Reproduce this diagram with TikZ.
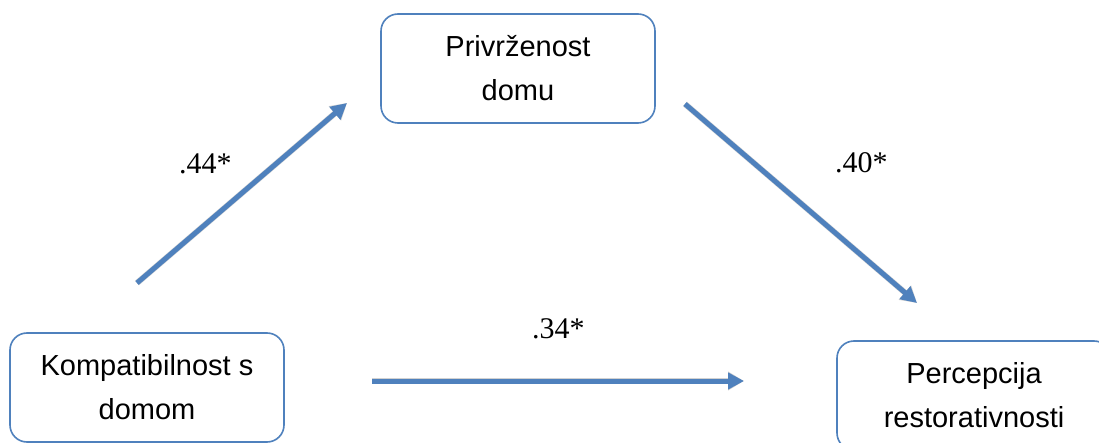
\documentclass[tikz,border=0pt]{standalone}
\usepackage{fontspec}
\setmainfont{Liberation Serif}
\newfontfamily\boxfont{Liberation Sans}
\usetikzlibrary{arrows.meta}
\definecolor{boxblue}{HTML}{4F81BD}
\definecolor{arrblue}{HTML}{4F81BD}
\tikzset{
  varbox/.style={draw=boxblue, line width=1.6pt, fill=white, rounded corners=17pt,
    minimum width=274pt, minimum height=109pt, inner sep=0pt},
  vartext/.style={align=center, font=\boxfont\fontsize{29}{44}\selectfont, inner sep=0pt},
  pathArrow/.style={draw=arrblue, line width=5pt, -{Triangle[length=16pt,width=16pt]}},
  shadowArrow/.style={draw=black, opacity=0.18, line width=6pt, -{Triangle[length=16pt,width=18pt]}},
  coef/.style={anchor=base west, inner sep=0pt, font=\fontsize{30}{36}\selectfont}
}
\begin{document}
\begin{tikzpicture}[x=1pt,y=-1pt]
\useasboundingbox (0,0) rectangle (1099,443);
\clip (0,0) rectangle (1099,443);
\fill[white] (0,0) rectangle (1099,443);
% boxes
\node[varbox] (komp) at (147,387.5) {};
\node[vartext] (kompT) at (komp.center) {Kompatibilnost s\\domom};
\node[varbox] (priv) at (518,68.5) {};
\node[vartext] (privT) at (priv.center) {Privrženost\\domu};
\node[varbox] (perc) at (974,395.5) {};
\node[vartext] (percT) at (perc.center) {Percepcija\\restorativnosti};
% arrow end points
\coordinate (a1s) at (137,283);
\coordinate (a1e) at (347,103);
\coordinate (a2s) at (685,104);
\coordinate (a2e) at (917,303);
\coordinate (a3s) at (372,381);
\coordinate (a3e) at (744,381);
% shadows
\begin{scope}[shift={(1.5,3)}]
\draw[shadowArrow] (a1s) -- (a1e);
\draw[shadowArrow] (a2s) -- (a2e);
\draw[shadowArrow] (a3s) -- (a3e);
\end{scope}
% arrows
\draw[pathArrow] (a1s) -- (a1e);
\draw[pathArrow] (a2s) -- (a2e);
\draw[pathArrow] (a3s) -- (a3e);
% coefficients
\node[coef] (c1) at (179,174) {.44*};
\node[coef] (c2) at (835,173) {.40*};
\node[coef] (c3) at (532,338) {.34*};
\end{tikzpicture}
\end{document}
